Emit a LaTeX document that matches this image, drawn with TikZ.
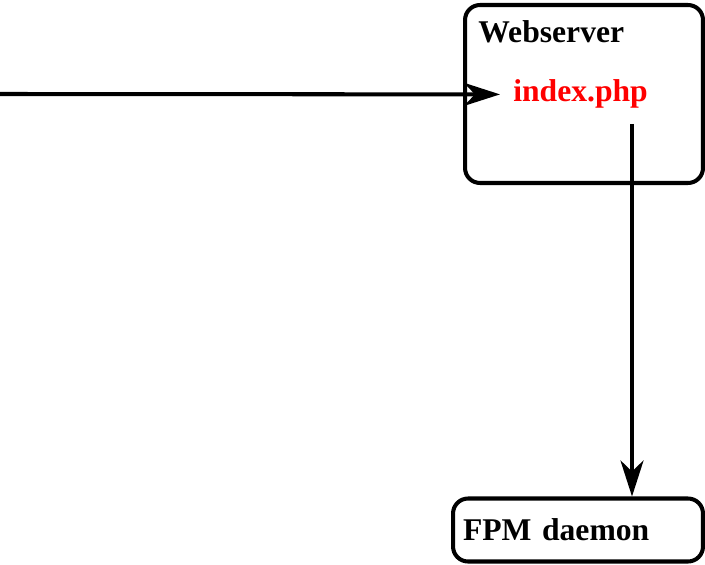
\documentclass[tikz,border=0pt]{standalone}
\usepackage{fontspec}
\setmainfont{Liberation Serif}
\usetikzlibrary{arrows.meta}
\definecolor{phpred}{rgb}{1.0, 0.0, 0.0}

\begin{document}
\begin{tikzpicture}[x=0.02cm, y=-0.02cm,
    box/.style={draw, line width=2.3pt, rounded corners=0.3cm},
    lbl/.style={font=\fontsize{18}{22}\selectfont\bfseries, inner sep=0pt},
    arr/.style={line width=2.3pt, -{Stealth[length=0.72cm, width=0.46cm, inset=0.22cm]}}]
            \useasboundingbox (0,0) rectangle (705,564);
            % boxes
            \node[box, minimum width=4.76cm, minimum height=3.56cm] (web) at (584,94) {};
            \node[box, lbl, text width=4.6cm, inner xsep=0.2cm, minimum height=1.26cm, align=left] (fpm) at (578,530) {FPM daemon};
            
            % texts
            \node[lbl, anchor=base west] (webtitle) at (478,43) {Webserver};
            \node[lbl, phpred, inner xsep=0.26cm, anchor=base west] (php) at (500,102) {index.php};
            
            % request
            \coordinate (in) at (0,94);
            \coordinate (phpout) at (632,124);
            \draw[arr] (in) -- (php.west);
            \draw[arr] (phpout) -- (phpout |- fpm.north);
\end{tikzpicture}
\end{document}
